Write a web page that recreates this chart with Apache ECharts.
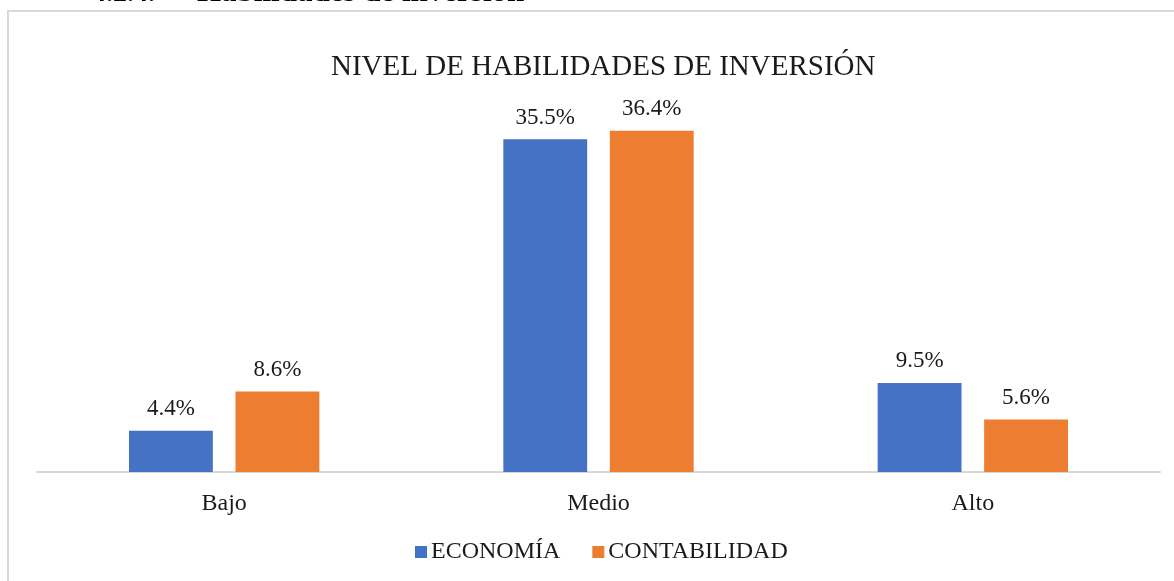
<!DOCTYPE html>
<html>
<head>
<meta charset="utf-8">
<script src="https://cdn.jsdelivr.net/npm/echarts@6/dist/echarts.min.js"></script>
<style>
  html, body { margin: 0; padding: 0; background: #fff; }
  #chart { width: 1174px; height: 581px; }
</style>
</head>
<body>
<div id="chart"></div>
<script>
let categories = ['Bajo', 'Medio', 'Alto']
let economia = [4.4, 35.5, 9.5]
let contabilidad = [8.6, 36.4, 5.6]
let seriesNames = ['ECONOMÍA', 'CONTABILIDAD']

;(function () {
    let chart = echarts.init(document.getElementById('chart'))
    let font = '"Liberation Serif", "Times New Roman", serif'
    let label = {
        show: true,
        position: 'top',
        distance: 10,
        color: '#1a1a1a',
        fontFamily: font,
        fontSize: 23,
        formatter: function (p) {
            return p.value.toFixed(1) + '%'
        }
    }
    let option = {
        animation: false,
        color: ['#4472c4', '#ed7d31'],
        title: {
            text: 'NIVEL DE HABILIDADES DE INVERSIÓN',
            left: 326,
            top: 48,
            textStyle: {
                fontFamily: font,
                fontWeight: 'normal',
                fontSize: 29,
                color: '#1a1a1a'
            }
        },
        // marco del gráfico y encabezado cortado
        graphic: [
            {
                type: 'rect',
                shape: { x: 8, y: 11, width: 1200, height: 600 },
                style: { fill: 'none', stroke: '#d9d9d9', lineWidth: 2 },
                silent: true
            },
            {
                type: 'text',
                x: 92,
                y: -20,
                style: {
                    text: '4.2.4.',
                    font: 'bold 28px "Liberation Serif", serif',
                    fill: '#000'
                },
                silent: true
            },
            {
                type: 'text',
                x: 197,
                y: -23,
                style: {
                    text: 'Habilidades de inversión',
                    font: 'bold 31px "Liberation Serif", serif',
                    fill: '#000'
                },
                silent: true
            }
        ],
        legend: {
            bottom: 12,
            left: 410,
            itemWidth: 12,
            itemHeight: 12,
            itemGap: 32,
            icon: 'rect',
            textStyle: {
                fontFamily: font,
                fontSize: 24,
                color: '#1a1a1a',
                padding: [0, 0, 0, -1]
            },
            data: seriesNames
        },
        grid: {
            left: 37,
            right: 14,
            top: 97,
            bottom: 109
        },
        xAxis: {
            type: 'category',
            data: categories,
            axisTick: { show: false },
            axisLine: {
                lineStyle: { color: '#d9d9d9', width: 2 }
            },
            axisLabel: {
                margin: 20,
                color: '#1a1a1a',
                fontFamily: font,
                fontSize: 24
            }
        },
        yAxis: {
            type: 'value',
            min: 0,
            max: 40,
            show: false,
            splitLine: { show: false }
        },
        series: [
            {
                name: seriesNames[0],
                type: 'bar',
                data: economia,
                barWidth: '22.4%',
                barGap: '27%',
                label: label
            },
            {
                name: seriesNames[1],
                type: 'bar',
                data: contabilidad,
                barWidth: '22.4%',
                label: label
            }
        ]
    }
    chart.setOption(option)
})()
</script>
</body>
</html>
